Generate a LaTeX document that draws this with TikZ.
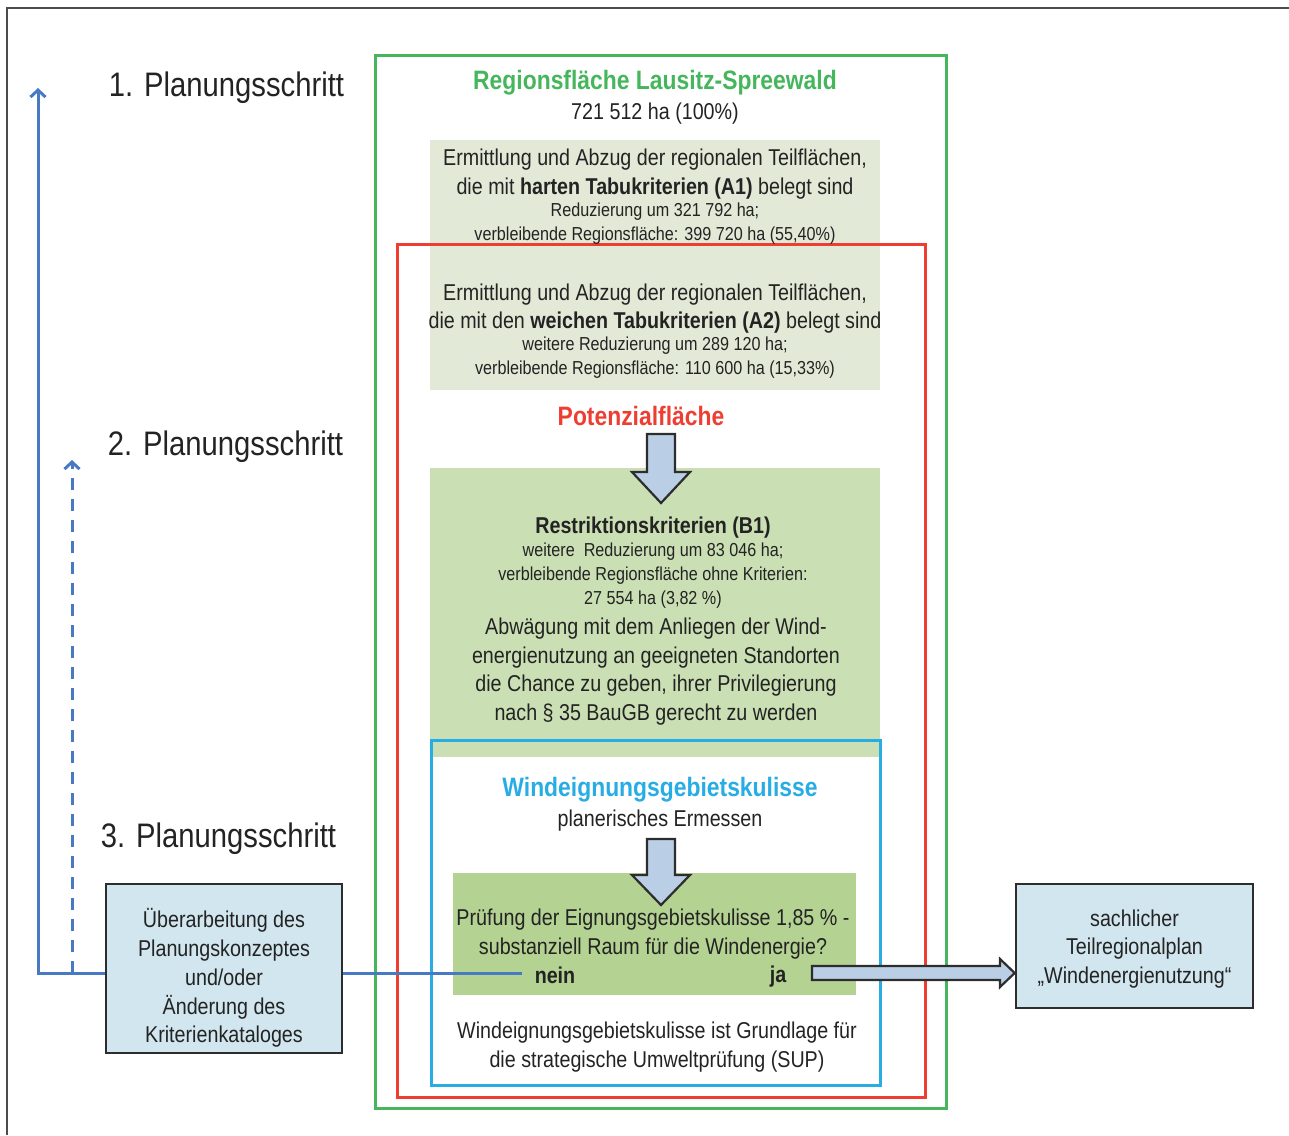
\documentclass[tikz,border=0pt]{standalone}
\usepackage{fontspec}
\setmainfont{Liberation Sans}[FakeStretch=0.86]
\usetikzlibrary{arrows.meta}
\definecolor{frameGreen}{RGB}{70,182,92}
\definecolor{frameRed}{RGB}{238,62,50}
\definecolor{frameCyan}{RGB}{40,172,228}
\definecolor{boxA}{RGB}{226,234,215}
\definecolor{boxB}{RGB}{202,224,180}
\definecolor{boxC}{RGB}{180,210,146}
\definecolor{arrowFill}{RGB}{186,206,229}
\definecolor{sideFill}{RGB}{209,230,238}
\definecolor{sideBorder}{RGB}{45,45,45}
\definecolor{feedBlue}{RGB}{72,122,196}
\definecolor{txt}{RGB}{35,35,35}
\begin{document}
\begin{tikzpicture}[x=1pt,y=-1pt,
  every node/.style={text=txt, inner sep=0pt},
  body/.style={font=\fontsize{22.9}{28.7}\selectfont, align=center},
  bodybold/.style={font=\fontsize{22.9}{28.7}\selectfont\bfseries, align=center},
  smalltxt/.style={font=\fontsize{18.8}{24}\selectfont, align=center},
  heading/.style={font=\fontsize{34}{40}\selectfont},
  boldtitle/.style={font=\fontsize{26.6}{30}\selectfont\bfseries},
  sidebox/.style={draw=sideBorder, line width=2.6pt, fill=sideFill},
  sidetext/.style={align=center, font=\fontsize{22.9}{28.8}\selectfont},
  frame/.style={line width=3pt},
  blockarrow/.style={draw=sideBorder, line width=2.2pt, fill=arrowFill, line join=miter},
  feedback/.style={draw=feedBlue, line width=3pt},
  feedtip/.style={-{Straight Barb[length=7pt,width=15pt,line width=3pt]}}
]
\useasboundingbox (0,0) rectangle (1289,1135);
% outer frame (top and left edges)
\draw[line width=2.2pt, draw=black!70] (7,1135) -- (7,8) -- (1289,8);

% fills
\fill[boxA] (430,140) rectangle (880,390);
\fill[boxB] (430,468) rectangle (880,757);
\fill[boxC] (453,873) rectangle (856,995);

% frames
\draw[frame, draw=frameGreen] (375,55) rectangle (946,1108);
\draw[frame, draw=frameRed] (397,244) rectangle (925,1097);
\draw[frame, draw=frameCyan] (431,740) rectangle (880,1085);

% block arrows
\draw[blockarrow] (647,434) -- (675,434) -- (675,472) -- (690,472) -- (661,503)
  -- (632,472) -- (647,472) -- cycle;
\draw[blockarrow] (647,839) -- (675,839) -- (675,875) -- (690,875) -- (661,905)
  -- (632,875) -- (647,875) -- cycle;

% step headings
\node[heading] (s1) at (226.5,88) {1. Planungsschritt};
\node[heading] (s2) at (225.5,447) {2. Planungsschritt};
\node[heading] (s3) at (218.5,839) {3. Planungsschritt};

% texts in the region frame
\node[boldtitle, text=frameGreen] (regtitle) at (655,82.5) {Regionsfläche Lausitz-Spreewald};
\node[body] (regha) at (655,114) {721 512 ha (100\%)};
\node[body] (a1) at (655,174) {Ermittlung und Abzug der regionalen Teilflächen,\\die mit \textbf{harten Tabukriterien (A1)} belegt sind};
\node[smalltxt] (a1s) at (655,224) {Reduzierung um 321 792 ha;\\verbleibende Regionsfläche: 399 720 ha (55,40\%)};
\node[body] (a2) at (655,308.5) {Ermittlung und Abzug der regionalen Teilflächen,\\die mit den \textbf{weichen Tabukriterien (A2)} belegt sind};
\node[smalltxt] (a2s) at (655,358) {weitere Reduzierung um 289 120 ha;\\verbleibende Regionsfläche: 110 600 ha (15,33\%)};
\node[boldtitle, text=frameRed] (pot) at (641,416) {Potenzialfläche};
\node[bodybold] (b1t) at (653,528) {Restriktionskriterien (B1)};
\node[smalltxt] (b1s) at (653,576) {weitere\ \ Reduzierung um 83 046 ha;\\verbleibende Regionsfläche ohne Kriterien:\\27 554 ha (3,82 \%)};
\node[body] (b1l) at (656,671.5) {Abwägung mit dem Anliegen der Wind-\\energienutzung an geeigneten Standorten\\die Chance zu geben, ihrer Privilegierung\\nach § 35 BauGB gerecht zu werden};
\node[boldtitle, text=frameCyan] (wind) at (660,789.5) {Windeignungsgebietskulisse};
\node[body] (erm) at (660,821) {planerisches Ermessen};
\node[body] (pruef) at (653,934) {Prüfung der Eignungsgebietskulisse 1,85 \% -\\substanziell Raum für die Windenergie?};
\node[bodybold] (nein) at (555,975) {nein};
\node[bodybold] (ja) at (778,977) {ja};
\node[body] (sup) at (657,1047) {Windeignungsgebietskulisse ist Grundlage für\\die strategische Umweltprüfung (SUP)};

% side boxes
\node[sidebox, minimum width=236pt, minimum height=169pt] (lbox) at (224,968.5) {};
\node[sidetext] (lboxtext) at (224,978)
  {Überarbeitung des\\Planungskonzeptes\\und/oder\\Änderung des\\Kriterienkataloges};
\node[sidebox, minimum width=237pt, minimum height=124pt] (rbox) at (1134.5,946) {};
\node[sidetext] (rboxtext) at (1134.5,949)
  {sachlicher\\Teilregionalplan\\„Windenergienutzung“};

% ja arrow to right box
\draw[blockarrow] (812,966) -- (1000,966) -- (1000,959) -- (rbox.west |- 0,973)
  -- (1000,987) -- (1000,980) -- (812,980) -- cycle;

% feedback lines
\coordinate (neinpt) at (522,973);
\coordinate (top1) at (38,88);
\coordinate (top2) at (72,460);
\draw[feedback] (neinpt) -- (lbox.east |- neinpt);
\draw[feedback, feedtip] (lbox.west |- neinpt) -| (top1);
\draw[feedback, feedtip, dash pattern=on 12pt off 9pt] (top2 |- neinpt) -- (top2);
\end{tikzpicture}
\end{document}
